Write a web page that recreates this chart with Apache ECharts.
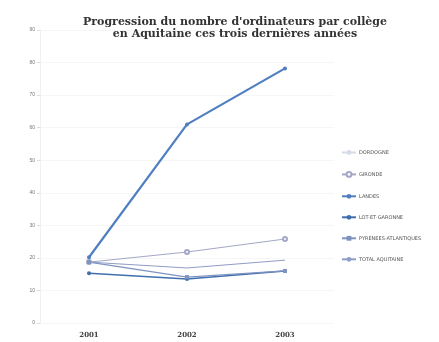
<!DOCTYPE html>
<html>
<head>
<meta charset="utf-8">
<script src="https://cdn.jsdelivr.net/npm/echarts@6/dist/echarts.min.js"></script>
<style>
  html, body { margin: 0; padding: 0; background: #fff; }
  #chart { width: 439px; height: 342px; }
</style>
</head>
<body>
<div id="chart"></div>
<script>
var years = ['2001', '2002', '2003'];
var dordogne = [null, null, null];
var gironde = [18.7, 21.8, 25.8];
var landes = [20.2, 61, 78.2];
var lotEtGaronne = [15.3, 13.5, 16];
var pyrenees = [18.7, 14.1, 16];
var totalAquitaine = [18.7, 16.9, 19.3];

var chart = echarts.init(document.getElementById('chart'));

function makeSeries(name, data, color, symbol, width) {
    return {
        name: name,
        type: 'line',
        data: data,
        symbol: symbol,
        symbolSize: 4,
        lineStyle: { color: color, width: width },
        itemStyle: { color: color }
    };
}

var option = {
    backgroundColor: '#fff',
    animation: false,
    title: {
        text: 'Progression du nombre d\'ordinateurs par collège\nen Aquitaine ces trois dernières années',
        left: 230,
        top: 11,
        textAlign: 'center',
        textStyle: {
            fontFamily: 'DejaVu Serif',
            fontWeight: 'bold',
            fontSize: 11,
            lineHeight: 12,
            color: '#333'
        }
    },
    legend: {
        orient: 'vertical',
        left: 336,
        top: 145,
        itemGap: 16,
        itemWidth: 14,
        itemHeight: 6,
        textStyle: { fontSize: 5, color: '#555', fontFamily: 'DejaVu Sans', padding: [0, 0, 0, -2] },
        data: ['DORDOGNE', 'GIRONDE', 'LANDES', 'LOT-ET-GARONNE', 'PYRENEES-ATLANTIQUES', 'TOTAL AQUITAINE']
    },
    grid: { left: 40, right: 105, top: 30, bottom: 19 },
    xAxis: {
        type: 'category',
        data: years,
        boundaryGap: true,
        axisLine: { show: false },
        axisTick: { show: false },
        axisLabel: { fontSize: 7, fontWeight: 'bold', color: '#444', fontFamily: 'DejaVu Serif', margin: 9 }
    },
    yAxis: {
        type: 'value',
        min: 0,
        max: 90,
        interval: 10,
        axisLine: { show: true, lineStyle: { color: '#f0f0f0' } },
        axisTick: { show: true, length: 3, lineStyle: { color: '#ddd' } },
        axisLabel: { fontSize: 5, color: '#777', margin: 5 },
        splitLine: { lineStyle: { color: '#f6f6f6' } }
    },
    series: [
        makeSeries('DORDOGNE', dordogne, '#d6dbe8', 'none', 1),
        makeSeries('GIRONDE', gironde, '#a4a7c6', 'emptyCircle', 1),
        makeSeries('LANDES', landes, '#4f7fc0', 'circle', 2.2),
        makeSeries('LOT-ET-GARONNE', lotEtGaronne, '#3f6fad', 'circle', 1.5),
        makeSeries('PYRENEES-ATLANTIQUES', pyrenees, '#7f93c0', 'rect', 1.2),
        makeSeries('TOTAL AQUITAINE', totalAquitaine, '#8f9cc8', 'none', 1)
    ]
};

chart.setOption(option);
</script>
</body>
</html>
